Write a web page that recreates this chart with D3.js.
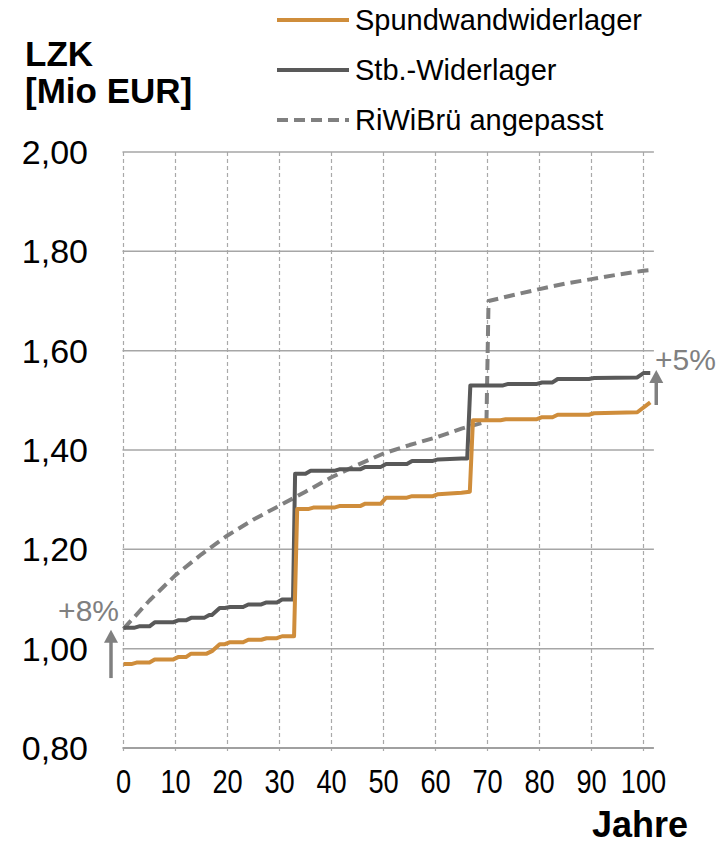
<!DOCTYPE html>
<html>
<head>
<meta charset="utf-8">
<script src="https://cdn.jsdelivr.net/npm/d3@7"></script>
<style>
  html, body { margin: 0; padding: 0; background: #fff; }
  svg { display: block; font-family: "Liberation Sans", Arial, sans-serif; }
</style>
</head>
<body>
<svg id="chart" width="720" height="846"></svg>
<script>
// Life-cycle costs (LZK) in Mio EUR over the service life in years
const seriesNames = ["Spundwandwiderlager", "Stb.-Widerlager", "RiWiBrü angepasst"];

const spundYears = [0, 1.5, 2.5, 5, 6, 9.5, 10.5, 12, 13, 16, 17, 18.5, 19.5, 20.5, 23, 24, 26.5, 27.5, 29.5, 30.5, 32.8,
  33.4, 35.5, 36.5, 40.5, 41.5, 45.5, 46.5, 49.5, 50.5, 54.5, 55.5, 59.5, 60.5, 65, 66.6,
  67.2, 72.5, 73.5, 79.5, 80.5, 82.5, 83.5, 89.5, 90.5, 98.8, 101.3];
const spundValues = [0.969, 0.969, 0.972, 0.972, 0.978, 0.978, 0.983, 0.983, 0.990, 0.990, 0.995, 1.009, 1.009, 1.013, 1.013, 1.018, 1.018, 1.021, 1.021, 1.025, 1.025,
  1.281, 1.281, 1.284, 1.284, 1.287, 1.287, 1.292, 1.292, 1.304, 1.304, 1.307, 1.307, 1.311, 1.314, 1.316,
  1.460, 1.460, 1.462, 1.462, 1.466, 1.466, 1.471, 1.471, 1.474, 1.476, 1.496];

const stbYears = [0, 2, 3, 5, 6, 9.5, 10.5, 12, 13, 15.5, 16.5, 17, 18.5, 19.5, 20.5, 23, 24, 26.5, 27.5, 29.5, 30.5, 32.6,
  33.0, 35, 36, 40.5, 41.5, 45.5, 46.5, 49.5, 50.5, 54.5, 55.5, 59.5, 60.5, 65, 66.1,
  66.7, 73, 74, 79.5, 80.5, 82.5, 83.5, 89.5, 90.5, 98.8, 100, 101.3];
const stbValues = [1.042, 1.042, 1.045, 1.045, 1.053, 1.053, 1.057, 1.057, 1.062, 1.062, 1.068, 1.068, 1.082, 1.082, 1.084, 1.084, 1.089, 1.089, 1.093, 1.093, 1.099, 1.099,
  1.352, 1.352, 1.358, 1.358, 1.361, 1.361, 1.366, 1.366, 1.372, 1.372, 1.378, 1.378, 1.381, 1.383, 1.383,
  1.530, 1.530, 1.533, 1.533, 1.536, 1.536, 1.543, 1.543, 1.545, 1.546, 1.555, 1.555];

const riwiYears = [0, 5, 10, 15, 20, 25, 30, 35, 40, 45, 50, 55, 60, 65, 69.8, 70.2, 75, 80, 85, 90, 95, 100, 101.3];
const riwiValues = [1.040, 1.097, 1.148, 1.190, 1.228, 1.260, 1.288, 1.316, 1.345, 1.370, 1.393, 1.410, 1.425, 1.443, 1.457,
  1.700, 1.712, 1.724, 1.735, 1.744, 1.753, 1.761, 1.762];

const xTicks = [0, 10, 20, 30, 40, 50, 60, 70, 80, 90, 100];
const yTicks = [0.8, 1.0, 1.2, 1.4, 1.6, 1.8, 2.0];

const annotationLabels = ["+8%", "+5%"];

const colors = ["#cf8d3b", "#595959", "#808080"];

const svg = d3.select("#chart");
const x = d3.scaleLinear().domain([0, 102]).range([123.5, 653.9]);
const y = d3.scaleLinear().domain([0.8, 2.0]).range([748, 152]);
const de = d3.formatLocale({ decimal: ",", thousands: ".", grouping: [3], currency: ["", " €"] });
const fmt = de.format(".2f");

// vertical dashed grid lines
svg.append("g")
  .selectAll("line").data(xTicks).join("line")
  .attr("x1", d => x(d)).attr("x2", d => x(d))
  .attr("y1", y(2.0)).attr("y2", y(0.8) + 6)
  .attr("stroke", "#a9a9a9").attr("stroke-width", 1.2)
  .attr("stroke-dasharray", "4,3");

// horizontal grid lines
svg.append("g")
  .selectAll("line").data(yTicks.filter(d => d > 0.8)).join("line")
  .attr("x1", x(0) - 1).attr("x2", x(102))
  .attr("y1", d => y(d)).attr("y2", d => y(d))
  .attr("stroke", "#a6a6a6").attr("stroke-width", 1.5);

// x axis line
svg.append("line")
  .attr("x1", x(0) - 1).attr("x2", x(102))
  .attr("y1", y(0.8)).attr("y2", y(0.8))
  .attr("stroke", "#a0a0a0").attr("stroke-width", 2.2);

// y tick labels
svg.append("g")
  .selectAll("text").data(yTicks).join("text")
  .attr("x", 88).attr("y", d => y(d))
  .attr("dy", "0.35em")
  .attr("text-anchor", "end")
  .attr("font-size", 34)
  .attr("fill", "#000")
  .text(d => fmt(d));

// x tick labels (narrow)
svg.append("g")
  .selectAll("text").data(xTicks).join("text")
  .attr("transform", d => `translate(${x(d)},793) scale(0.8,1)`)
  .attr("text-anchor", "middle")
  .attr("font-size", 34)
  .attr("fill", "#000")
  .text(d => d);

// axis titles
svg.append("text").attr("x", 25).attr("y", 66)
  .attr("font-size", 35).attr("font-weight", "bold").text("LZK");
svg.append("text").attr("x", 25).attr("y", 103)
  .attr("font-size", 35).attr("font-weight", "bold").text("[Mio EUR]");
svg.append("text").attr("x", 688).attr("y", 837)
  .attr("text-anchor", "end")
  .attr("font-size", 36).attr("font-weight", "bold").text("Jahre");

// series lines
const line = d3.line().x(d => x(d[0])).y(d => y(d[1]));
const seriesData = [
  d3.zip(spundYears, spundValues),
  d3.zip(stbYears, stbValues),
  d3.zip(riwiYears, riwiValues)
];
const dashes = [null, null, "11,6"];

// RiWiBrü first so the solid lines sit on top
[2, 1, 0].forEach(i => {
  svg.append("path")
    .datum(seriesData[i])
    .attr("d", line)
    .attr("fill", "none")
    .attr("stroke", colors[i])
    .attr("stroke-width", 4)
    .attr("stroke-linejoin", "round")
    .attr("stroke-dasharray", dashes[i]);
});

// legend
const legend = svg.append("g");
seriesNames.forEach((name, i) => {
  const ly = 20 + i * 50;
  legend.append("line")
    .attr("x1", 277).attr("x2", 349).attr("y1", ly).attr("y2", ly)
    .attr("stroke", colors[i]).attr("stroke-width", 4)
    .attr("stroke-dasharray", dashes[i]);
  legend.append("text")
    .attr("x", 355).attr("y", ly).attr("dy", "0.35em")
    .attr("font-size", 29).attr("fill", "#000")
    .text(name);
});

// percentage arrows: start year / end year of each increase
const arrows = [
  { label: annotationLabels[0], ax: x(0) - 12.5, bottom: y(0.969) + 14, top: y(1.042) + 2, tx: 119, ty: 621, anchor: "end" },
  { label: annotationLabels[1], ax: x(101.3) + 6, bottom: 405, top: 370, tx: 655, ty: 370, anchor: "start" }
];
const ann = svg.append("g").attr("fill", "#808080").attr("stroke", "#808080");
arrows.forEach(a => {
  ann.append("line")
    .attr("x1", a.ax).attr("x2", a.ax)
    .attr("y1", a.bottom).attr("y2", a.top + 12)
    .attr("stroke-width", 3.5);
  ann.append("path")
    .attr("stroke", "none")
    .attr("d", `M${a.ax - 7},${a.top + 13} L${a.ax + 7},${a.top + 13} L${a.ax},${a.top} Z`);
  ann.append("text")
    .attr("stroke", "none")
    .attr("x", a.tx).attr("y", a.ty)
    .attr("text-anchor", a.anchor)
    .attr("font-size", 30)
    .text(a.label);
});
</script>
</body>
</html>
